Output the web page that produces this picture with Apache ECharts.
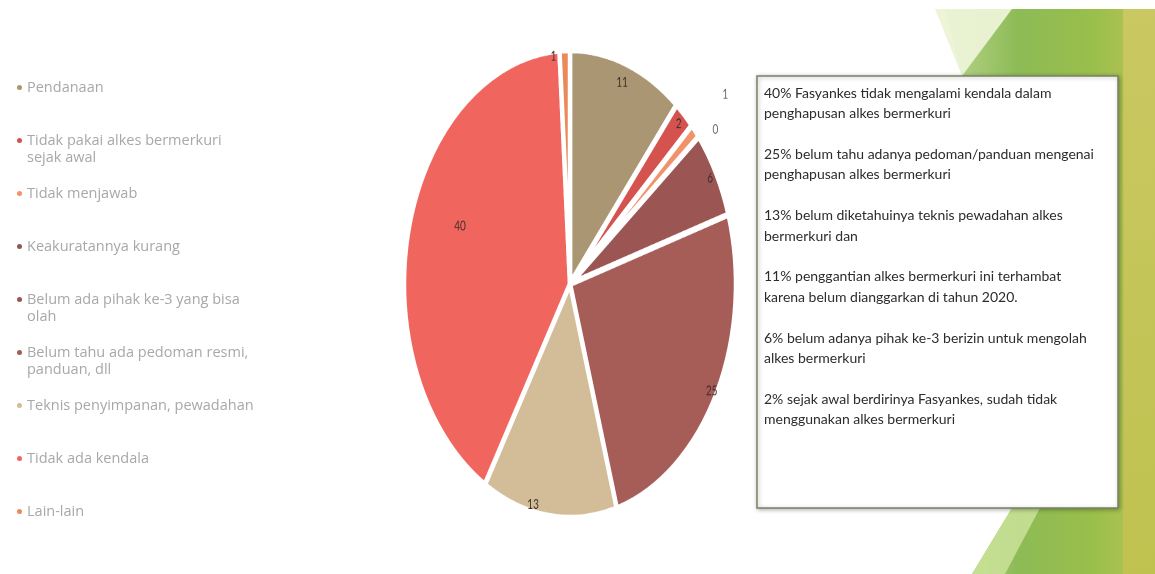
<!DOCTYPE html>
<html>
<head>
<meta charset="utf-8">
<script src="https://cdn.jsdelivr.net/npm/echarts@6/dist/echarts.min.js"></script>
<style>
html,body{margin:0;padding:0;background:#fff;}
#wrap{position:relative;width:1155px;height:574px;overflow:hidden;}
#main{position:absolute;left:0;top:0;width:1155px;height:574px;}
#pie{position:absolute;}
</style>
</head>
<body>
<div id="wrap"><div id="main"></div><div id="pie"></div></div>
<script>
// ---- data ----
const categories = [
  'Pendanaan',
  'Tidak pakai alkes bermerkuri sejak awal',
  'Tidak menjawab',
  'Keakuratannya kurang',
  'Belum ada pihak ke-3 yang bisa olah',
  'Belum tahu ada pedoman resmi, panduan, dll',
  'Teknis penyimpanan, pewadahan',
  'Tidak ada kendala',
  'Lain-lain'
];
const legendLines = [
  ['Pendanaan'],
  ['Tidak pakai alkes bermerkuri', 'sejak awal'],
  ['Tidak menjawab'],
  ['Keakuratannya kurang'],
  ['Belum ada pihak ke-3 yang bisa', 'olah'],
  ['Belum tahu ada pedoman resmi,', 'panduan, dll'],
  ['Teknis penyimpanan, pewadahan'],
  ['Tidak ada kendala'],
  ['Lain-lain']
];
const values = [11, 2, 1, 0, 6, 25, 13, 40, 1];
const notes = [
  ['40% Fasyankes tidak mengalami kendala dalam', 'penghapusan alkes bermerkuri'],
  ['25% belum tahu adanya pedoman/panduan mengenai', 'penghapusan alkes bermerkuri'],
  ['13% belum diketahuinya teknis pewadahan alkes', 'bermerkuri dan'],
  ['11% penggantian alkes bermerkuri ini terhambat', 'karena belum dianggarkan di tahun 2020.'],
  ['6% belum adanya pihak ke-3 berizin untuk mengolah', 'alkes bermerkuri'],
  ['2% sejak awal berdirinya Fasyankes, sudah tidak', 'menggunakan alkes bermerkuri']
];

// ---- styles ----
const sliceColors = ['#ab9673', '#d4534f', '#f2926a', '#8c5a50', '#9b5552', '#a65c57', '#d3bd98', '#f0665e', '#e98a58'];
// extra outward push of each value label, as a fraction of the radius (label sits at 0.5 + this)
const labelPush = [0.40, 0.43, 0.72, 0.58, 0.44, 0.45, 0.45, 0.19, 0.46];
// small angular nudge of a label (degrees, positive = counter-clockwise)
const labelTurn = [0, 0, 0, -2, 0, 0, -6, -7, 4];
const FONT = 'Lato, "Open Sans", sans-serif';

// pie geometry (ellipse: horizontal radius R, stretched vertically by K)
const CX = 570, CY = 284, R = 166, K = 234 / 166, PAD = 50;

const pieData = categories.map((n, i) => ({
  name: n,
  value: values[i],
  itemStyle: { color: sliceColors[i] },
  label: (i === 2 || i === 3) ? { color: '#6a6a6a' } : {}
}));

// mid angle of each slice (degrees, math convention), derived from the values
const total = values.reduce((a, b) => a + b, 0);
const midAngle = [];
values.reduce((cum, v) => { midAngle.push(90 - (cum + v / 2) / total * 360); return cum + v; }, 0);

// ---------- main chart: background, legend, note box ----------
const main = echarts.init(document.getElementById('main'));
const noteText = notes.map(p => p.join('\n')).join('\n\n');
main.setOption({
  animation: false,
  backgroundColor: '#ffffff',
  legend: {
    orient: 'vertical',
    left: 17,
    top: 62,
    padding: 0,
    itemGap: 2,
    itemWidth: 5,
    itemHeight: 5,
    icon: 'circle',
    data: categories,
    formatter: function (name) {
      const l = legendLines[categories.indexOf(name)];
      return '\n' + l[0] + '\n' + (l[1] || '');
    },
    textStyle: { color: '#a8a8a8', fontSize: 14.5, fontFamily: '"Open Sans", sans-serif', lineHeight: 17 }
  },
  series: [{
    type: 'pie',
    name: 'legend-source',
    silent: true,
    center: [CX, CY],
    radius: [0, 0],
    label: { show: false },
    labelLine: { show: false },
    itemStyle: { borderWidth: 0 },
    data: pieData
  }],
  graphic: [
    {
      type: 'polygon', z: -10, silent: true,
      shape: { points: [[945, 9], [1155, 9], [1155, 574], [972, 574], [1012, 508], [962, 76]] },
      style: { fill: new echarts.graphic.LinearGradient(0, 0, 1, 0, [
        { offset: 0, color: '#b9d48e' },
        { offset: 0.35, color: '#8dbb55' },
        { offset: 0.7, color: '#99bf4c' },
        { offset: 1, color: '#bcc452' }
      ]) }
    },
    {
      type: 'polygon', z: -9, silent: true,
      shape: { points: [[935, 9], [1012, 9], [962, 76]] },
      style: { fill: 'rgba(236,243,214,0.95)' }
    },
    {
      type: 'rect', z: -9, silent: true,
      shape: { x: 1123, y: 9, width: 32, height: 565 },
      style: { fill: new echarts.graphic.LinearGradient(0, 0, 0, 1, [
        { offset: 0, color: '#c9c862' },
        { offset: 1, color: '#bfc24f' }
      ]) }
    },
    {
      type: 'polygon', z: -9, silent: true,
      shape: { points: [[972, 574], [1012, 508], [1040, 508], [1005, 574]] },
      style: { fill: 'rgba(200,224,150,0.9)' }
    },
    {
      type: 'rect', z: 5, silent: true,
      shape: { x: 757, y: 76, width: 361, height: 432 },
      style: { fill: '#ffffff', stroke: '#7a8266', lineWidth: 1.5,
        shadowBlur: 4, shadowColor: 'rgba(0,0,0,0.3)', shadowOffsetX: 1, shadowOffsetY: 1 }
    },
    {
      type: 'text', z: 6, silent: true,
      left: 764, top: 83,
      style: { text: noteText, fill: '#2c2c2c', font: '14px ' + FONT, lineHeight: 20.4 }
    }
  ]
});

// ---------- pie chart (stretched vertically into an ellipse) ----------
const pieDom = document.getElementById('pie');
const S = 2 * (R + PAD);
pieDom.style.left = (CX - R - PAD) + 'px';
pieDom.style.top = (CY - R - PAD) + 'px';
pieDom.style.width = S + 'px';
pieDom.style.height = S + 'px';
pieDom.style.transformOrigin = '50% 50%';
pieDom.style.transform = 'scaleY(' + K + ')';

const pie = echarts.init(pieDom, null, { devicePixelRatio: 2 });
pie.setOption({
  animation: false,
  series: [{
    type: 'pie',
    center: ['50%', '50%'],
    radius: [0, R],
    startAngle: 90,
    clockwise: true,
    avoidLabelOverlap: false,
    minShowLabelAngle: 0,
    itemStyle: { borderColor: '#ffffff', borderWidth: 4.5 },
    label: {
      show: true,
      position: 'inside',
      formatter: '{c}',
      color: '#3d3028',
      fontSize: 10,
      fontFamily: FONT
    },
    labelLine: { show: false },
    labelLayout: function (p) {
      const i = p.dataIndex;
      const a0 = midAngle[i] * Math.PI / 180;
      const a1 = (midAngle[i] + labelTurn[i]) * Math.PI / 180;
      const r0 = 0.5 * R + 3;
      const r1 = (0.5 + labelPush[i]) * R + 3;
      return {
        dx: Math.cos(a1) * r1 - Math.cos(a0) * r0,
        dy: -Math.sin(a1) * r1 + Math.sin(a0) * r0
      };
    },
    emphasis: { disabled: true },
    data: pieData
  }]
});
</script>
</body>
</html>
